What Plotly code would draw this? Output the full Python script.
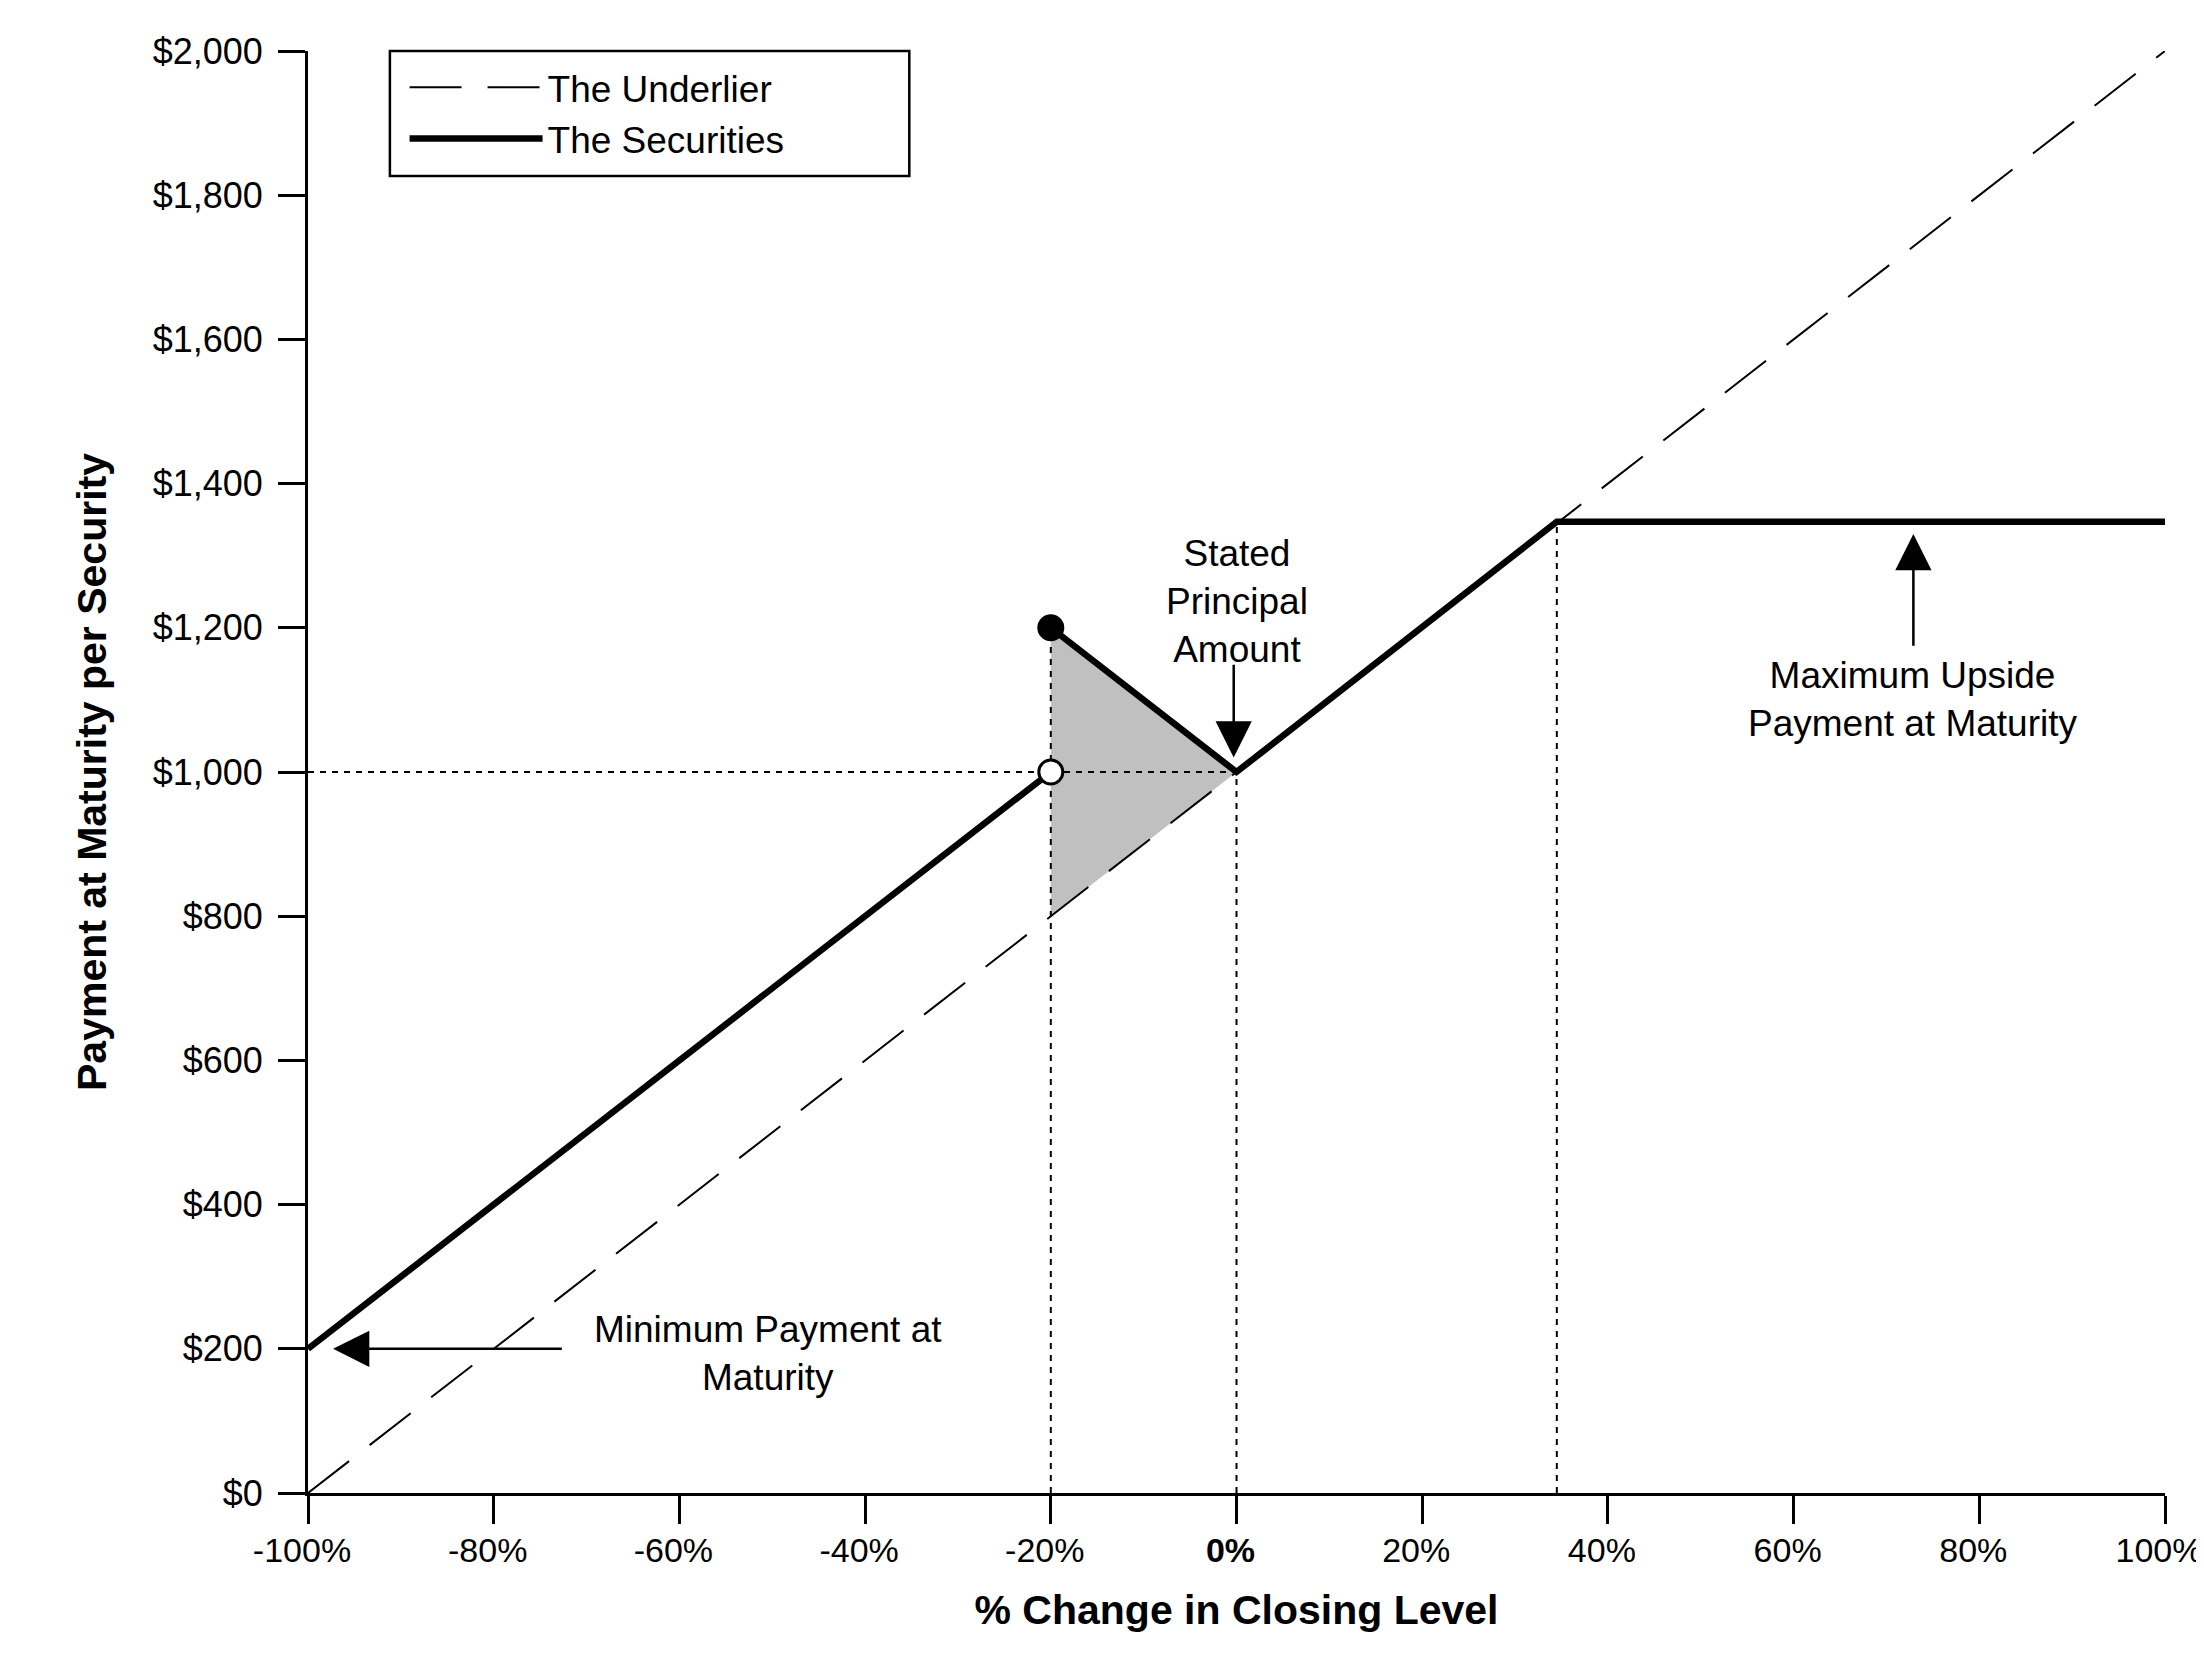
import plotly.graph_objects as go

# payoff data (% change in closing level vs payment per security)
underlier_x = [-100, 100]
underlier_y = [0, 2000]

securities_x = [-100, -20, None, -20, 0, 34.5, 100]
securities_y = [200, 1000, None, 1200, 1000, 1347, 1347]

shade_x = [-20, 0, -20]
shade_y = [1200, 1000, 800]

guide_x = [-100, 0, None, -20, -20, None, 0, 0, None, 34.5, 34.5]
guide_y = [1000, 1000, None, 0, 1200, None, 0, 1000, None, 0, 1347]

filled_pt_x = [-20]
filled_pt_y = [1200]
open_pt_x = [-20]
open_pt_y = [1000]

x_ticks = [-100, -80, -60, -40, -20, 0, 20, 40, 60, 80, 100]
x_labels = ['-100%', '-80%', '-60%', '-40%', '-20%', '<b>0%</b>', '20%', '40%', '60%', '80%', '100%']
y_ticks = [0, 200, 400, 600, 800, 1000, 1200, 1400, 1600, 1800, 2000]
y_labels = ['$0', '$200', '$400', '$600', '$800', '$1,000', '$1,200', '$1,400', '$1,600', '$1,800', '$2,000']

FONT = 'Liberation Sans, Arial, sans-serif'

fig = go.Figure()

# shaded triangle
fig.add_trace(go.Scatter(x=shade_x, y=shade_y, fill='toself', mode='none',
                         fillcolor='#c0c0c0', showlegend=False, hoverinfo='skip'))

# dotted guides
fig.add_trace(go.Scatter(x=guide_x, y=guide_y, mode='lines',
                         line=dict(color='black', width=2, dash='6px,6px'),
                         showlegend=False, hoverinfo='skip'))

fig.add_trace(go.Scatter(x=underlier_x, y=underlier_y, mode='lines',
                         name='The Underlier',
                         line=dict(color='black', width=2, dash='52px,26px')))

fig.add_trace(go.Scatter(x=securities_x, y=securities_y, mode='lines',
                         name='The Securities', cliponaxis=False,
                         line=dict(color='black', width=6.5)))

fig.add_trace(go.Scatter(x=filled_pt_x, y=filled_pt_y, mode='markers', showlegend=False,
                         cliponaxis=False,
                         marker=dict(size=25, color='black', line=dict(color='black', width=2))))
fig.add_trace(go.Scatter(x=open_pt_x, y=open_pt_y, mode='markers', showlegend=False,
                         cliponaxis=False,
                         marker=dict(size=24, color='white', line=dict(color='black', width=3))))

txt = dict(family=FONT, size=37, color='black')
arrow = dict(showarrow=True, arrowhead=2, arrowsize=2.9, arrowwidth=2.5, arrowcolor='black',
             axref='x', ayref='y', text='')

# Stated Principal Amount
fig.add_annotation(x=0, y=1236, text='Stated<br>Principal<br>Amount', showarrow=False, font=txt)
fig.add_annotation(x=-0.3, y=1020, ax=-0.3, ay=1151, **arrow)

# Maximum Upside
fig.add_annotation(x=72.9, y=1101, text='Maximum Upside<br>Payment at Maturity', showarrow=False, font=txt)
fig.add_annotation(x=72.9, y=1330, ax=72.9, ay=1173, **arrow)

# Minimum Payment
fig.add_annotation(x=-50.5, y=194, text='Minimum Payment at<br>Maturity', showarrow=False, font=txt)
fig.add_annotation(x=-97.3, y=200, ax=-72.5, ay=200, **arrow)

# legend frame
fig.add_shape(type='rect', xref='paper', yref='paper', x0=0.0441, x1=0.3238, y0=0.9133, y1=1.0,
              line=dict(color='black', width=2.5), fillcolor='rgba(0,0,0,0)', layer='above')

# page body adds an 8px offset, so the figure is 8px smaller and margins shifted
fig.update_layout(
    width=2196, height=1656,
    margin=dict(l=300, r=39, t=43, b=171, autoexpand=False),
    paper_bgcolor='white', plot_bgcolor='white',
    font=dict(family=FONT, size=36, color='black'),
    legend=dict(x=0.052, y=0.996, xanchor='left', yanchor='top',
                borderwidth=0, bgcolor='rgba(0,0,0,0)',
                font=dict(family=FONT, size=37, color='black'),
                itemwidth=133, tracegroupgap=0),
)

fig.update_xaxes(range=[-100, 100], tickvals=x_ticks, ticktext=x_labels,
                 showgrid=False, zeroline=False, showline=True, linecolor='black', linewidth=3,
                 ticks='outside', ticklen=28, tickwidth=2.5, tickcolor='black',
                 ticklabelstandoff=-3, ticklabelshift=-6, ticklabeloverflow='allow', automargin=False,
                 tickfont=dict(family=FONT, size=34),
                 title=dict(text='<b>% Change in Closing Level</b>', font=dict(family=FONT, size=41),
                            standoff=28))
fig.update_yaxes(range=[0, 2000], tickvals=y_ticks, ticktext=y_labels,
                 showgrid=False, zeroline=False, showline=True, linecolor='black', linewidth=3,
                 ticks='outside', ticklen=27, tickwidth=2.5, tickcolor='black',
                 ticklabelstandoff=8, ticklabeloverflow='allow', automargin=False,
                 tickfont=dict(family=FONT, size=36),
                 title=dict(text='<b>Payment at Maturity per Security</b>', font=dict(family=FONT, size=41),
                            standoff=34))

fig.write_html("out.html")
